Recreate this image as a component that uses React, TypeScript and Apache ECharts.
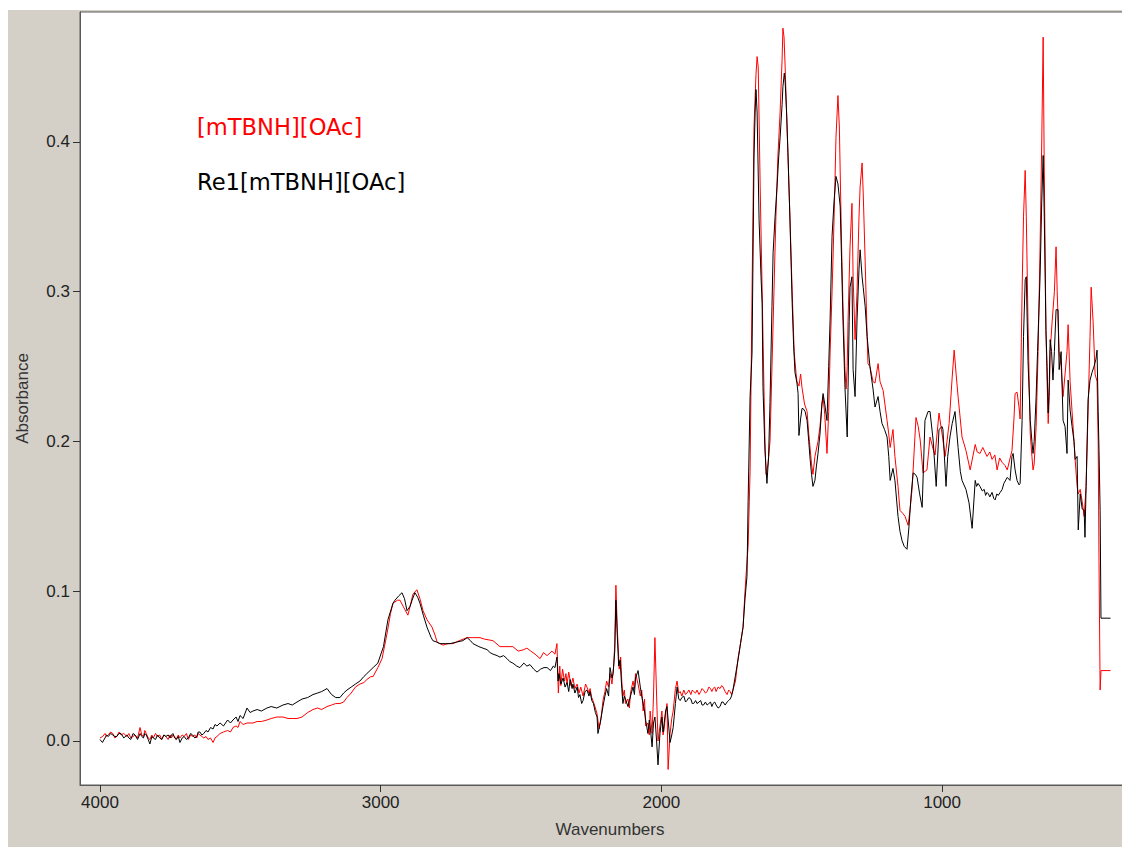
import React, { useEffect, useRef } from "react";
import * as echarts from "echarts";

// FTIR absorbance spectra, [wavenumber (cm-1), absorbance]
const ilSpectrum: [number, number][] = [
  [4000, 0.002], [3990, 0.003], [3982, 0.005], [3976, 0.003], [3970, 0.004], [3962, 0.006],
  [3954, 0.005], [3947, 0.002], [3940, 0.003], [3932, 0.006], [3925, 0.004], [3915, 0.005],
  [3904, 0.003], [3897, 0.005], [3890, 0.002], [3882, 0.003], [3875, 0.004], [3866, 0.002],
  [3857, 0.009], [3851, 0.004], [3845, 0.003], [3840, 0.007], [3835, 0.005], [3828, 0.002],
  [3822, 0.001], [3815, 0.004], [3810, 0.002], [3802, 0.005], [3795, 0.003], [3787, 0.004],
  [3780, 0.001], [3772, 0.004], [3765, 0.003], [3757, 0.001], [3750, 0.004], [3745, 0.002],
  [3740, 0.004], [3734, 0.003], [3728, 0.001], [3721, 0.004], [3715, 0.002], [3707, 0.004],
  [3700, 0.003], [3692, 0.005], [3685, 0.001], [3677, 0.004], [3670, 0.003], [3662, 0.004],
  [3655, 0.002], [3650, 0.005], [3644, 0.004], [3637, 0.003], [3630, 0.002], [3622, 0.003],
  [3615, 0.001], [3606, 0.002], [3597, -0.001], [3590, 0.002], [3583, 0.003], [3572, 0.005],
  [3560, 0.006], [3545, 0.007], [3535, 0.006], [3526, 0.009], [3515, 0.01], [3508, 0.009],
  [3501, 0.013], [3490, 0.011], [3476, 0.012], [3465, 0.012], [3455, 0.012], [3440, 0.013],
  [3425, 0.013], [3405, 0.014], [3390, 0.015], [3370, 0.016], [3348, 0.016], [3330, 0.015],
  [3315, 0.015], [3298, 0.015], [3280, 0.016], [3260, 0.019], [3241, 0.021], [3225, 0.022],
  [3210, 0.021], [3191, 0.023], [3175, 0.024], [3160, 0.025], [3145, 0.025], [3132, 0.026],
  [3120, 0.029], [3105, 0.032], [3090, 0.036], [3074, 0.038], [3060, 0.039], [3049, 0.041],
  [3035, 0.043], [3027, 0.043], [3010, 0.049], [2995, 0.055], [2977, 0.072], [2965, 0.085],
  [2956, 0.092], [2940, 0.094], [2931, 0.094], [2920, 0.09], [2903, 0.084], [2895, 0.09],
  [2885, 0.098], [2871, 0.101], [2860, 0.095], [2849, 0.087], [2835, 0.081], [2817, 0.076],
  [2805, 0.07], [2799, 0.066], [2778, 0.064], [2760, 0.065], [2742, 0.065], [2720, 0.067],
  [2692, 0.069], [2670, 0.069], [2646, 0.069], [2630, 0.068], [2600, 0.067], [2575, 0.063],
  [2550, 0.063], [2529, 0.063], [2510, 0.06], [2490, 0.061], [2479, 0.062], [2465, 0.06],
  [2450, 0.058], [2432, 0.055], [2420, 0.059], [2407, 0.057], [2390, 0.06], [2379, 0.058],
  [2372, 0.065], [2367, 0.032], [2362, 0.05], [2358, 0.037], [2352, 0.048], [2345, 0.04],
  [2340, 0.045], [2336, 0.038], [2330, 0.046], [2322, 0.037], [2315, 0.042], [2308, 0.035],
  [2300, 0.038], [2293, 0.032], [2287, 0.036], [2279, 0.03], [2270, 0.038], [2265, 0.036],
  [2258, 0.032], [2254, 0.035], [2248, 0.029], [2242, 0.026], [2235, 0.022], [2229, 0.018],
  [2222, 0.008], [2215, 0.015], [2208, 0.027], [2201, 0.033], [2195, 0.04], [2188, 0.036],
  [2183, 0.045], [2176, 0.038], [2170, 0.05], [2166, 0.065], [2162, 0.104], [2157, 0.075],
  [2150, 0.048], [2145, 0.056], [2141, 0.04], [2137, 0.03], [2132, 0.034], [2128, 0.025],
  [2119, 0.028], [2114, 0.022], [2110, 0.032], [2101, 0.04], [2096, 0.035], [2092, 0.045],
  [2083, 0.038], [2075, 0.03], [2070, 0.034], [2065, 0.02], [2060, 0.028], [2056, 0.01],
  [2048, 0.012], [2043, 0.004], [2040, 0.02], [2033, 0.005], [2028, 0.03], [2023, 0.069],
  [2017, 0.03], [2012, 0.0], [2005, 0.01], [1998, 0.02], [1994, 0.004], [1990, 0.008],
  [1985, 0.018], [1980, 0.025], [1976, -0.019], [1969, 0.005], [1963, 0.015], [1958, 0.02],
  [1950, 0.035], [1944, 0.04], [1938, 0.032], [1933, 0.033], [1927, 0.03], [1920, 0.034],
  [1914, 0.031], [1909, 0.032], [1902, 0.034], [1895, 0.031], [1890, 0.034], [1885, 0.033],
  [1878, 0.032], [1873, 0.034], [1866, 0.031], [1860, 0.033], [1855, 0.035], [1850, 0.034],
  [1843, 0.032], [1837, 0.033], [1831, 0.036], [1825, 0.035], [1820, 0.033], [1816, 0.035],
  [1810, 0.036], [1805, 0.033], [1798, 0.036], [1791, 0.035], [1785, 0.037], [1780, 0.036],
  [1773, 0.033], [1766, 0.031], [1760, 0.034], [1755, 0.033], [1750, 0.031],
  [1745, 0.034], [1736, 0.04], [1727, 0.055], [1720, 0.063], [1709, 0.076],
  [1702, 0.1], [1695, 0.12], [1691, 0.13], [1684, 0.18], [1677, 0.3], [1670, 0.41],
  [1663, 0.445], [1659, 0.457], [1655, 0.45], [1648, 0.37], [1641, 0.3], [1634, 0.23],
  [1631, 0.2], [1627, 0.178], [1620, 0.185], [1613, 0.2], [1606, 0.25], [1599, 0.3],
  [1592, 0.35], [1585, 0.39], [1577, 0.42], [1570, 0.455], [1567, 0.476], [1563, 0.47],
  [1559, 0.45], [1554, 0.42], [1549, 0.39], [1542, 0.35], [1534, 0.3], [1527, 0.26],
  [1520, 0.245], [1517, 0.24], [1510, 0.237], [1504, 0.245], [1499, 0.236], [1490, 0.225],
  [1481, 0.22], [1475, 0.205], [1470, 0.195], [1465, 0.185], [1460, 0.178], [1453, 0.19],
  [1442, 0.2], [1435, 0.21], [1428, 0.225], [1424, 0.23], [1418, 0.218], [1410, 0.192],
  [1404, 0.22], [1399, 0.259], [1392, 0.3], [1388, 0.326], [1382, 0.37], [1378, 0.403],
  [1371, 0.431], [1366, 0.41], [1363, 0.38], [1358, 0.33], [1353, 0.29], [1346, 0.248],
  [1342, 0.235], [1338, 0.25], [1335, 0.281], [1328, 0.33], [1321, 0.359], [1317, 0.31],
  [1310, 0.268], [1303, 0.3], [1296, 0.35], [1292, 0.37], [1285, 0.386], [1281, 0.366],
  [1274, 0.32], [1267, 0.27], [1264, 0.252], [1257, 0.25], [1246, 0.24], [1239, 0.239],
  [1228, 0.252], [1221, 0.24], [1210, 0.234], [1196, 0.214], [1190, 0.205], [1185, 0.196],
  [1175, 0.208], [1168, 0.19], [1157, 0.17], [1150, 0.154], [1140, 0.152], [1132, 0.15],
  [1121, 0.144], [1114, 0.155], [1107, 0.168], [1093, 0.216], [1085, 0.21], [1078, 0.201],
  [1068, 0.179], [1054, 0.181], [1043, 0.203], [1032, 0.195], [1025, 0.191], [1011, 0.219],
  [1000, 0.205], [989, 0.19], [975, 0.212], [964, 0.243], [957, 0.261], [950, 0.245],
  [943, 0.23], [929, 0.203], [915, 0.194], [900, 0.181], [882, 0.198], [875, 0.193],
  [865, 0.192], [855, 0.196], [840, 0.19], [830, 0.193], [822, 0.188], [812, 0.191],
  [804, 0.181], [795, 0.189], [786, 0.186], [776, 0.184], [768, 0.181], [760, 0.187],
  [751, 0.194], [744, 0.215], [740, 0.232], [733, 0.233], [726, 0.223], [722, 0.215],
  [715, 0.3], [710, 0.35], [704, 0.381], [700, 0.35], [694, 0.28], [686, 0.205], [680, 0.19],
  [676, 0.181], [672, 0.185], [665, 0.21], [658, 0.26], [651, 0.33], [645, 0.4],
  [640, 0.47], [636, 0.38], [630, 0.274], [626, 0.24], [622, 0.212], [618, 0.23],
  [615, 0.26], [608, 0.28], [600, 0.3], [594, 0.33], [590, 0.3], [583, 0.26],
  [576, 0.25], [569, 0.23], [562, 0.245], [555, 0.26], [551, 0.278], [544, 0.24],
  [537, 0.22], [530, 0.2], [526, 0.188], [519, 0.17], [515, 0.165], [508, 0.168],
  [501, 0.16], [494, 0.15], [487, 0.17], [480, 0.22], [473, 0.27], [469, 0.303],
  [462, 0.28], [455, 0.245], [448, 0.24], [444, 0.2], [441, 0.12], [437, 0.034],
  [434, 0.047], [400, 0.047],
];

const re1Spectrum: [number, number][] = [
  [4000, 0.001], [3991, -0.001], [3982, 0.002], [3976, 0.004], [3970, 0.003], [3962, 0.005],
  [3954, 0.004], [3947, 0.003], [3940, 0.003], [3932, 0.005], [3925, 0.005], [3915, 0.002],
  [3904, 0.004], [3897, 0.002], [3890, 0.001], [3882, 0.005], [3875, 0.004], [3866, 0.001],
  [3857, 0.005], [3851, 0.003], [3845, 0.002], [3840, 0.005], [3835, 0.004], [3828, 0.001],
  [3822, -0.002], [3815, 0.003], [3810, 0.002], [3802, 0.001], [3795, 0.004], [3787, 0.002],
  [3780, 0.001], [3772, 0.004], [3765, 0.003], [3757, 0.004], [3750, 0.002], [3745, 0.004],
  [3740, 0.005], [3734, 0.002], [3728, 0.001], [3721, 0.003], [3715, -0.001], [3707, 0.002],
  [3700, 0.003], [3692, 0.001], [3685, 0.002], [3677, 0.005], [3670, 0.004], [3662, 0.002],
  [3655, 0.003], [3650, 0.006], [3644, 0.006], [3637, 0.004], [3630, 0.005], [3622, 0.007],
  [3615, 0.006], [3606, 0.009], [3597, 0.008], [3590, 0.011], [3583, 0.01], [3572, 0.012],
  [3560, 0.01], [3545, 0.014], [3535, 0.012], [3526, 0.014], [3515, 0.016], [3508, 0.013],
  [3501, 0.017], [3490, 0.015], [3476, 0.022], [3465, 0.019], [3455, 0.02], [3440, 0.021],
  [3425, 0.02], [3405, 0.022], [3390, 0.023], [3370, 0.022], [3348, 0.024], [3330, 0.025],
  [3315, 0.024], [3298, 0.026], [3280, 0.028], [3260, 0.029], [3241, 0.031], [3225, 0.032],
  [3210, 0.033], [3191, 0.035], [3175, 0.031], [3160, 0.029], [3145, 0.029], [3132, 0.032],
  [3120, 0.034], [3105, 0.036], [3090, 0.038], [3074, 0.04], [3060, 0.043], [3049, 0.045],
  [3027, 0.049], [3010, 0.052], [2990, 0.063], [2974, 0.081], [2956, 0.092], [2949, 0.094],
  [2935, 0.097], [2924, 0.099], [2915, 0.095], [2906, 0.087], [2895, 0.09], [2888, 0.094],
  [2878, 0.099], [2868, 0.096], [2860, 0.092], [2848, 0.084], [2835, 0.076], [2820, 0.069],
  [2814, 0.067], [2800, 0.066], [2789, 0.065], [2770, 0.065], [2753, 0.065], [2730, 0.066],
  [2707, 0.067], [2692, 0.069], [2680, 0.067], [2671, 0.065], [2650, 0.063], [2636, 0.062],
  [2621, 0.061], [2610, 0.059], [2600, 0.058], [2585, 0.057], [2575, 0.056], [2562, 0.057],
  [2550, 0.055], [2540, 0.053], [2529, 0.052], [2515, 0.05], [2504, 0.049], [2490, 0.052],
  [2479, 0.05], [2468, 0.051], [2455, 0.048], [2443, 0.046], [2430, 0.048], [2418, 0.049],
  [2407, 0.049], [2395, 0.047], [2385, 0.05], [2379, 0.049], [2372, 0.056], [2368, 0.04],
  [2365, 0.045], [2358, 0.038], [2350, 0.042], [2343, 0.036], [2336, 0.039], [2330, 0.033],
  [2325, 0.041], [2318, 0.035], [2315, 0.038], [2308, 0.032], [2300, 0.036], [2295, 0.029],
  [2290, 0.031], [2284, 0.025], [2279, 0.027], [2272, 0.033], [2265, 0.034], [2258, 0.03],
  [2254, 0.033], [2248, 0.027], [2242, 0.025], [2235, 0.019], [2229, 0.016], [2226, 0.005],
  [2218, 0.012], [2208, 0.023], [2201, 0.03], [2195, 0.035], [2188, 0.03], [2183, 0.049],
  [2176, 0.042], [2172, 0.045], [2166, 0.06], [2162, 0.094], [2157, 0.07], [2152, 0.05],
  [2147, 0.054], [2141, 0.035], [2137, 0.025], [2132, 0.03], [2128, 0.028], [2119, 0.023],
  [2114, 0.027], [2110, 0.03], [2101, 0.036], [2096, 0.031], [2092, 0.042], [2083, 0.047],
  [2075, 0.036], [2070, 0.03], [2065, 0.025], [2060, 0.02], [2056, 0.014], [2048, 0.005],
  [2043, 0.014], [2040, 0.01], [2033, -0.004], [2028, 0.012], [2023, 0.016], [2017, 0.0],
  [2012, -0.016], [2005, 0.005], [1998, 0.016], [1994, 0.006], [1990, 0.012], [1985, 0.02],
  [1980, 0.023], [1974, 0.01], [1969, -0.001], [1963, 0.004], [1958, 0.009], [1950, 0.025],
  [1944, 0.036], [1938, 0.028], [1933, 0.027], [1927, 0.029], [1920, 0.03], [1914, 0.026],
  [1909, 0.027], [1902, 0.029], [1895, 0.028], [1890, 0.025], [1885, 0.025], [1878, 0.027],
  [1873, 0.025], [1866, 0.026], [1860, 0.027], [1855, 0.024], [1850, 0.024], [1843, 0.026],
  [1837, 0.024], [1831, 0.025], [1825, 0.026], [1820, 0.023], [1816, 0.025], [1810, 0.026],
  [1805, 0.024], [1798, 0.022], [1791, 0.023], [1785, 0.026], [1780, 0.026], [1773, 0.024],
  [1766, 0.026], [1760, 0.027], [1755, 0.028], [1750, 0.03],
  [1745, 0.034], [1736, 0.044], [1727, 0.054],
  [1718, 0.065], [1709, 0.076], [1702, 0.095], [1695, 0.11], [1691, 0.16], [1684, 0.23],
  [1677, 0.259], [1670, 0.39], [1666, 0.42], [1663, 0.435], [1659, 0.42], [1652, 0.348],
  [1645, 0.31], [1641, 0.292], [1638, 0.236], [1631, 0.194], [1624, 0.172], [1618, 0.19],
  [1613, 0.226], [1606, 0.29], [1602, 0.326], [1595, 0.35], [1588, 0.37], [1582, 0.39],
  [1577, 0.403], [1570, 0.425], [1567, 0.437], [1562, 0.446], [1559, 0.44], [1554, 0.42],
  [1549, 0.393], [1542, 0.348], [1538, 0.32], [1534, 0.292], [1529, 0.265], [1524, 0.246],
  [1517, 0.239], [1513, 0.232], [1510, 0.204], [1504, 0.215], [1499, 0.222], [1495, 0.222],
  [1488, 0.22], [1481, 0.214], [1475, 0.2], [1470, 0.188], [1465, 0.178], [1460, 0.17],
  [1453, 0.174], [1448, 0.183], [1442, 0.192], [1435, 0.205], [1428, 0.225], [1424, 0.232],
  [1418, 0.225], [1410, 0.214], [1404, 0.25], [1399, 0.281], [1392, 0.337], [1385, 0.36],
  [1378, 0.377], [1371, 0.372], [1363, 0.357], [1358, 0.32], [1353, 0.281], [1346, 0.236],
  [1338, 0.203], [1335, 0.236], [1331, 0.28], [1328, 0.303], [1321, 0.31], [1317, 0.248],
  [1310, 0.23], [1303, 0.281], [1296, 0.315], [1292, 0.328], [1285, 0.31], [1281, 0.303],
  [1274, 0.29], [1267, 0.27], [1257, 0.25], [1246, 0.235], [1239, 0.223], [1228, 0.23],
  [1221, 0.22], [1214, 0.212], [1205, 0.208], [1196, 0.203], [1190, 0.19], [1185, 0.174],
  [1175, 0.182], [1168, 0.174], [1157, 0.15], [1150, 0.14], [1143, 0.134], [1135, 0.13],
  [1125, 0.128], [1118, 0.143], [1110, 0.165], [1103, 0.179], [1095, 0.178], [1089, 0.176],
  [1080, 0.165], [1071, 0.156], [1061, 0.214], [1050, 0.22], [1043, 0.22], [1032, 0.201],
  [1021, 0.17], [1011, 0.208], [1000, 0.21], [997, 0.208], [986, 0.17], [980, 0.19],
  [972, 0.203], [964, 0.212], [954, 0.22], [943, 0.196], [935, 0.18], [929, 0.174],
  [915, 0.168], [904, 0.159], [893, 0.142], [882, 0.174], [877, 0.17], [872, 0.172],
  [865, 0.17], [857, 0.167], [850, 0.168], [845, 0.164], [840, 0.166], [835, 0.165],
  [830, 0.163], [822, 0.166], [816, 0.162], [811, 0.161], [805, 0.165], [800, 0.164],
  [793, 0.166], [786, 0.168], [780, 0.172], [768, 0.176], [758, 0.174], [751, 0.19],
  [747, 0.192], [740, 0.181], [733, 0.174], [726, 0.171], [722, 0.172], [715, 0.214],
  [710, 0.27], [704, 0.308], [700, 0.31], [694, 0.254], [686, 0.214], [680, 0.2], [676, 0.192],
  [672, 0.2], [665, 0.23], [660, 0.26], [651, 0.31], [645, 0.36], [640, 0.391],
  [636, 0.35], [630, 0.274], [626, 0.25], [622, 0.219], [618, 0.24], [615, 0.268],
  [610, 0.26], [605, 0.241], [600, 0.26], [594, 0.288], [587, 0.288], [583, 0.248],
  [576, 0.26], [569, 0.214], [562, 0.21], [555, 0.192], [551, 0.241], [544, 0.221],
  [537, 0.21], [530, 0.2], [526, 0.188], [519, 0.19], [515, 0.141], [508, 0.165],
  [501, 0.155], [494, 0.154], [491, 0.136], [487, 0.17], [480, 0.228], [473, 0.241],
  [466, 0.246], [459, 0.25], [452, 0.255], [448, 0.261], [444, 0.22], [441, 0.194],
  [437, 0.154], [434, 0.082], [400, 0.082],
];

const xTicks = [1000, 2000, 3000, 4000];
const yTicks = [0, 0.1, 0.2, 0.3, 0.4];
const seriesNames = ["[mTBNH][OAc]", "Re1[mTBNH][OAc]"];

export default function App() {
  const ref = useRef<HTMLDivElement>(null);

  useEffect(() => {
    if (!ref.current) return;
    const chart = echarts.init(ref.current, undefined, { renderer: "svg" });
    const labelFont = "'Liberation Sans', Arial, sans-serif";
    const legendFont = "'DejaVu Sans', sans-serif";
    chart.setOption({
      animation: false,
      backgroundColor: "#d4d0c8",
      grid: {
        left: 72,
        top: 2,
        width: 1060,
        height: 773,
        outerBoundsMode: "none",
        containLabel: false,
        show: true,
        backgroundColor: "#ffffff",
        borderColor: "#5a5a5a",
        borderWidth: 1,
      },
      xAxis: {
        type: "value",
        inverse: true,
        min: 295,
        max: 4071,
        name: "Wavenumbers",
        nameLocation: "middle",
        nameGap: 36,
        nameTextStyle: { fontSize: 17, color: "#333", fontFamily: labelFont },
        axisLine: { show: true, onZero: false, lineStyle: { color: "#5a5a5a", width: 1 } },
        axisTick: { show: true, length: 7, inside: false, customValues: xTicks, lineStyle: { color: "#333" } },
        axisLabel: {
          customValues: xTicks,
          margin: 9,
          fontSize: 17,
          color: "#222",
          fontFamily: labelFont,
          formatter: (v: number) => String(v),
        },
        splitLine: { show: false },
      },
      yAxis: {
        type: "value",
        min: -0.0294,
        max: 0.4868,
        name: "Absorbance",
        nameLocation: "middle",
        nameGap: 49,
        nameRotate: 90,
        nameTextStyle: { fontSize: 17, color: "#333", fontFamily: labelFont },
        axisLine: { show: true, onZero: false, lineStyle: { color: "#5a5a5a", width: 1 } },
        axisTick: { show: true, length: 7, inside: false, customValues: yTicks, lineStyle: { color: "#333" } },
        axisLabel: {
          customValues: yTicks,
          margin: 10,
          fontSize: 17,
          color: "#222",
          fontFamily: labelFont,
          formatter: (v: number) => v.toFixed(1),
        },
        splitLine: { show: false },
      },
      series: [
        {
          name: seriesNames[0],
          type: "line",
          data: ilSpectrum,
          showSymbol: false,
          symbol: "none",
          lineStyle: { color: "#ff0000", width: 1 },
          z: 2,
        },
        {
          name: seriesNames[1],
          type: "line",
          data: re1Spectrum,
          showSymbol: false,
          symbol: "none",
          lineStyle: { color: "#000000", width: 1 },
          z: 3,
        },
      ],
      graphic: [
        {
          type: "text",
          left: 189,
          top: 105,
          style: { text: seriesNames[0], fill: "#ff0000", fontSize: 22.6, fontFamily: legendFont },
        },
        {
          type: "text",
          left: 189,
          top: 160,
          style: { text: seriesNames[1], fill: "#000000", fontSize: 22.6, fontFamily: legendFont },
        },
      ],
    });
    return () => chart.dispose();
  }, []);

  return (
    <div
      ref={ref}
      style={{ position: "fixed", left: 8, top: 10, width: 1114, height: 837 }}
    />
  );
}
